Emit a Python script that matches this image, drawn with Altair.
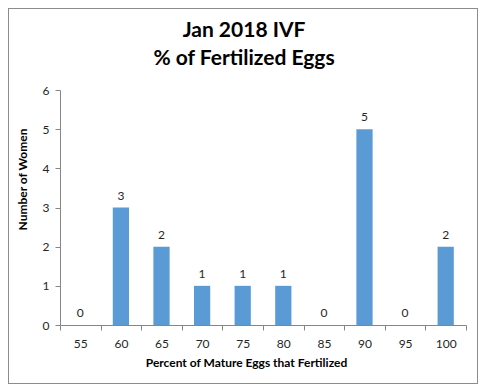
import altair as alt
import pandas as pd

categories = ["55", "60", "65", "70", "75", "80", "85", "90", "95", "100"]
counts = [0, 3, 2, 1, 1, 1, 0, 5, 0, 2]
y_ticks = [0, 1, 2, 3, 4, 5, 6]
title_lines = ["Jan 2018 IVF", "% of Fertilized Eggs"]

df = pd.DataFrame({"pct": categories, "n": counts})

FONT = "Lato"
W, H = 406, 235

x_enc = alt.X(
    "pct:N",
    sort=categories,
    scale=alt.Scale(paddingInner=0, paddingOuter=0),
    axis=alt.Axis(
        title="Percent of Mature Eggs that Fertilized",
        labelAngle=0,
        tickBand="extent",
        tickExtra=True,
        labelPadding=8,
        titleX=186,
        titleY=32,
    ),
)
y_enc = alt.Y(
    "n:Q",
    scale=alt.Scale(domain=[0, 6], nice=False),
    axis=alt.Axis(
        title="Number of Women",
        values=y_ticks,
        tickCount=10,
        format="d",
        labelOverlap=False,
        grid=False,
        labelPadding=6,
        titleX=-38,
        titleY=89,
        titleBaseline="middle",
    ),
)

bars = alt.Chart(df).mark_bar(color="#5B9BD5", width=alt.RelativeBandSize(0.4)).encode(x=x_enc, y=y_enc)
labels = alt.Chart(df).mark_text(dy=-12, fontSize=12, font=FONT, color="#262626").encode(
    x=x_enc, y=y_enc, text="n:Q"
)
border = alt.Chart(df).mark_rect(fill="transparent", stroke="#8c8c8c", strokeWidth=1).encode(
    x=alt.value(-51.5), x2=alt.value(W + 11.5), y=alt.value(-81.5), y2=alt.value(H + 58.5)
)
title1 = alt.Chart(pd.DataFrame({"t": [title_lines[0]]})).mark_text(
    font=FONT, fontSize=21, fontWeight="bold", color="#000000", baseline="middle"
).encode(x=alt.value(184), y=alt.value(-59), text="t:N")
title2 = alt.Chart(pd.DataFrame({"t": [title_lines[1]]})).mark_text(
    font=FONT, fontSize=21, fontWeight="bold", color="#000000", baseline="middle"
).encode(x=alt.value(184), y=alt.value(-31), text="t:N")

chart = (
    alt.layer(border, bars, labels, title1, title2)
    .properties(
        width=W,
        height=H,
        autosize=alt.AutoSizeParams(type="none"),
        padding={"left": 52, "top": 82, "right": 12, "bottom": 59},
    )
    .configure_view(stroke=None)
    .configure_axis(
        domainColor="#868686",
        tickColor="#868686",
        tickSize=5,
        labelFont=FONT,
        labelFontSize=12,
        labelColor="#262626",
        titleFont=FONT,
        titleFontSize=12,
        titleFontWeight="bold",
        titleColor="#000000",
    )
)

chart.save("out.html", embed_options={"renderer": "svg", "actions": False})
